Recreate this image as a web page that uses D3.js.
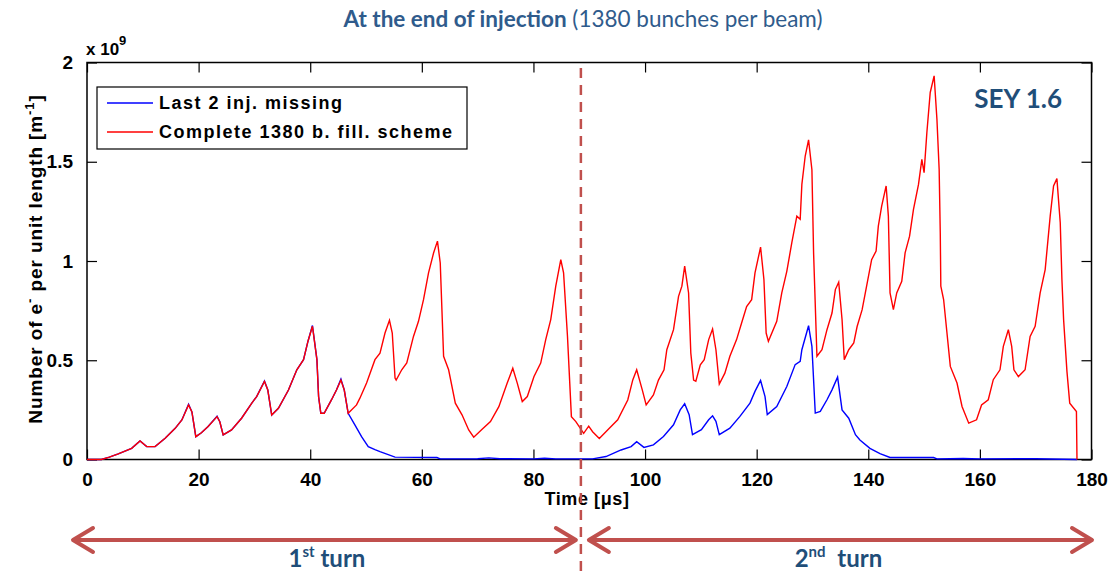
<!DOCTYPE html>
<html>
<head>
<meta charset="utf-8">
<script src="https://cdn.jsdelivr.net/npm/d3@7"></script>
<style>
  body { margin: 0; background: #fff; }
  svg { display: block; }
  .tick text { font-family: "Liberation Sans", Arial, sans-serif; font-weight: bold; font-size: 19px; fill: #000; }
</style>
</head>
<body>
<div id="chart"></div>
<script>
// time axis (us) and electron density (x 1e9 per m)
const redT = [0, 2.6, 4, 5.6, 8.0, 9.5, 10.7, 12.2, 14.0, 15.8, 17.0, 18.2, 18.8, 19.5, 20.5, 21.7, 23.3, 23.8, 24.4, 25.9, 27.7, 29.5, 30.4, 31.8, 32.4, 33.1, 34.3, 36.1, 37.6, 38.8, 39.6, 40.4, 41.2, 41.5, 41.9, 42.5, 43.8, 44.7, 45.5, 46.1, 46.8,
  48.3, 48.9, 50.1, 51.6, 52.5, 53.4, 54.2, 54.7, 55.2, 55.4, 56.4, 57.3, 58.5, 59.4, 60.3, 61.2, 62.1, 62.8, 63.3, 63.9, 64.8, 66.0, 67.2, 68.4, 69.3, 70.8, 72.3, 73.8, 75.3, 76.3, 77.1, 78.0, 78.9, 80.1, 81.3, 82.2, 83.1, 84.0, 84.9, 85.4, 86.1, 86.8, 87.6, 89.0, 89.9, 90.6, 91.8, 93.6, 95.1, 96.9, 97.8, 98.5, 99.5,
  100.2, 101.5, 102.4, 103.4, 103.9, 105.1, 106.0, 106.6, 107.1, 107.8, 108.2, 108.7, 109.1, 109.9, 110.6, 111.4, 112.1, 112.7, 113.3, 114.3, 115.2, 116.4, 117.3, 118.2, 119.1, 119.7, 120.7, 121.3, 121.7, 122.1, 123.6, 124.5, 125.4, 126.3, 127.2, 127.8, 128.1, 128.7, 129.3, 129.9, 130.2, 130.8, 131.7, 132.6, 133.5, 134.1, 134.7, 135.3, 135.7, 136.5, 137.4, 138.0, 138.9, 139.7,
  140.6, 141.4, 141.8, 142.4, 143.2, 143.6, 143.9, 144.5, 145.1, 146.0, 146.6, 147.4, 148.1, 149.0, 149.6, 150.0, 150.5, 151.1, 151.8, 152.3, 152.7, 152.9, 153.0, 153.5, 154.7, 155.9, 156.8, 158.0, 159.4, 160.3, 161.5, 162.4, 163.6, 164.2, 165.1, 165.7, 166.1, 166.9, 168.1, 169.0, 169.9, 170.8, 171.7, 172.6, 173.2, 173.8, 174.4, 174.7, 175.0, 175.6, 176.1, 177.3, 177.4];
const redV = [0, 0, 0.012, 0.028, 0.056, 0.093, 0.065, 0.065, 0.107, 0.157, 0.199, 0.275, 0.24, 0.115, 0.135, 0.166, 0.216, 0.19, 0.124, 0.149, 0.208, 0.283, 0.317, 0.393, 0.35, 0.224, 0.258, 0.35, 0.452, 0.503, 0.596, 0.671, 0.503, 0.317, 0.233, 0.233, 0.30, 0.35, 0.40, 0.35, 0.233,
  0.275, 0.309, 0.385, 0.503, 0.536, 0.637, 0.701, 0.637, 0.41, 0.40, 0.452, 0.486, 0.62, 0.696, 0.805, 0.94, 1.04, 1.10, 0.99, 0.52, 0.452, 0.284, 0.225, 0.149, 0.112, 0.152, 0.191, 0.266, 0.385, 0.46, 0.385, 0.292, 0.317, 0.418, 0.486, 0.604, 0.705, 0.873, 1.007, 0.94, 0.62, 0.216, 0.191, 0.132, 0.168, 0.14, 0.106, 0.157, 0.20, 0.30, 0.401, 0.452, 0.351,
  0.275, 0.325, 0.40, 0.452, 0.553, 0.654, 0.822, 0.873, 0.974, 0.839, 0.536, 0.40, 0.394, 0.477, 0.503, 0.604, 0.657, 0.553, 0.38, 0.435, 0.52, 0.604, 0.688, 0.77, 0.805, 0.94, 1.07, 0.907, 0.637, 0.595, 0.696, 0.839, 0.948, 1.092, 1.226, 1.21, 1.386, 1.529, 1.61, 1.46, 1.041, 0.52, 0.553, 0.654, 0.738, 0.856, 0.893, 0.705, 0.503, 0.553, 0.587, 0.67, 0.755, 0.873,
  1.007, 1.05, 1.176, 1.277, 1.378, 1.226, 0.839, 0.755, 0.839, 0.898, 1.041, 1.125, 1.26, 1.386, 1.512, 1.445, 1.647, 1.849, 1.933, 1.715, 1.462, 1.142, 0.873, 0.806, 0.469, 0.385, 0.267, 0.183, 0.20, 0.275, 0.301, 0.402, 0.452, 0.57, 0.654, 0.57, 0.452, 0.418, 0.452, 0.62, 0.671, 0.839, 0.957, 1.226, 1.378, 1.415, 1.193, 0.906, 0.705, 0.444, 0.284, 0.242, 0];

const blueT = [0, 2.6, 4, 5.6, 8.0, 9.5, 10.7, 12.2, 14.0, 15.8, 17.0, 18.2, 18.8, 19.5, 20.5, 21.7, 23.3, 23.8, 24.4, 25.9, 27.7, 29.5, 30.4, 31.8, 32.4, 33.1, 34.3, 36.1, 37.6, 38.8, 39.6, 40.4, 41.2, 41.5, 41.9, 42.5, 43.8, 44.7, 45.5, 46.1, 46.8,
  48.0, 49.2, 50.4, 51.6, 52.5, 55.2, 62.7, 63.3, 70, 72, 74, 80, 82, 84, 90.6, 93.0, 95.7, 97.5, 98.5, 99.8, 101.5, 103.3, 105.1, 106.3, 107.1, 107.9, 108.5, 110.1, 111.4, 112.1, 112.7, 113.3, 115.2, 117.0, 118.8, 119.7, 120.7, 121.5, 121.9, 123.6, 125.4, 126.9, 127.8, 128.1, 129.3, 129.9, 130.5, 131.4, 132.6, 133.5, 134.5, 135.3, 136.5, 137.7, 138.5, 140.3, 142.1, 143.9, 151.7, 152.3, 157, 160, 170, 177.4];
const blueV = [0, 0, 0.012, 0.028, 0.056, 0.093, 0.065, 0.065, 0.107, 0.157, 0.199, 0.278, 0.24, 0.115, 0.135, 0.166, 0.218, 0.19, 0.124, 0.149, 0.208, 0.283, 0.317, 0.395, 0.35, 0.224, 0.258, 0.35, 0.452, 0.503, 0.596, 0.675, 0.503, 0.317, 0.233, 0.233, 0.30, 0.35, 0.405, 0.35, 0.233,
  0.174, 0.115, 0.065, 0.05, 0.04, 0.012, 0.01, 0.003, 0.004, 0.008, 0.004, 0.003, 0.006, 0.003, 0.003, 0.015, 0.048, 0.065, 0.09, 0.061, 0.074, 0.116, 0.175, 0.25, 0.281, 0.226, 0.125, 0.15, 0.20, 0.22, 0.192, 0.125, 0.158, 0.217, 0.284, 0.343, 0.398, 0.317, 0.226, 0.267, 0.368, 0.478, 0.495, 0.553, 0.674, 0.57, 0.234, 0.242, 0.301, 0.351, 0.415, 0.25, 0.208, 0.125, 0.098, 0.056, 0.03, 0.01, 0.01, 0.003, 0.005, 0.003, 0.004, 0];

const xTicks = [0, 20, 40, 60, 80, 100, 120, 140, 160, 180];
const yTicks = [0, 0.5, 1, 1.5, 2];
const yTickLabels = ["0", "0.5", "1", "1.5", "2"];
const seriesNames = ["Last 2 inj. missing", "Complete 1380 b. fill. scheme"];
const turnLabels = [["1", "st", " turn"], ["2", "nd", "  turn"]];
const turnBreak = 88.5; // us, end of the first turn

const W = 1119, H = 573;
const mLeft = 87, mRight = 1091.5, mTop = 62.5, mBottom = 459.5;

const svg = d3.select("#chart").append("svg").attr("width", W).attr("height", H);

const x = d3.scaleLinear().domain([0, 180]).range([mLeft, mRight]);
const y = d3.scaleLinear().domain([0, 2]).range([mBottom, mTop]);

const darkBlue = "#1f4e79";
const arrowRed = "#c0504d";

// title
const title = svg.append("text")
  .attr("x", 583).attr("y", 27)
  .attr("text-anchor", "middle")
  .style("font-family", "Lato, 'Open Sans', sans-serif")
  .style("font-size", "22.5px")
  .style("fill", "#2f5b8c");
title.append("tspan").style("font-weight", "bold").text("At the end of injection");
title.append("tspan").text(" (1380 bunches per beam)");

// axes
svg.append("g")
  .attr("transform", `translate(0,${mBottom})`)
  .call(d3.axisBottom(x).tickValues(xTicks).tickSizeInner(-10).tickSizeOuter(0).tickPadding(13));
svg.append("g")
  .attr("transform", `translate(0,${mTop})`)
  .call(d3.axisTop(x).tickValues(xTicks).tickSizeInner(-10).tickSizeOuter(0).tickFormat(""));
svg.append("g")
  .attr("transform", `translate(${mLeft},0)`)
  .call(d3.axisLeft(y).tickValues(yTicks).tickSizeInner(-10).tickSizeOuter(0).tickPadding(14)
    .tickFormat((d, i) => yTickLabels[i]));
svg.append("g")
  .attr("transform", `translate(${mRight},0)`)
  .call(d3.axisRight(y).tickValues(yTicks).tickSizeInner(-10).tickSizeOuter(0).tickFormat(""));
svg.selectAll(".domain").remove();
svg.selectAll(".tick line").attr("stroke", "#000").attr("stroke-width", 1.2);

svg.append("rect")
  .attr("x", mLeft).attr("y", mTop)
  .attr("width", mRight - mLeft).attr("height", mBottom - mTop)
  .attr("fill", "none").attr("stroke", "#000").attr("stroke-width", 1.5);

// exponent
const expo = svg.append("text")
  .attr("x", mLeft - 1).attr("y", 55)
  .style("font-family", "'Liberation Sans', Arial, sans-serif")
  .style("font-weight", "bold").style("font-size", "17px");
expo.append("tspan").text("x 10");
expo.append("tspan").attr("dy", -10).style("font-size", "13px").text("9");

// axis labels
svg.append("text")
  .attr("x", 587).attr("y", 505)
  .attr("text-anchor", "middle")
  .style("font-family", "'Liberation Sans', Arial, sans-serif")
  .style("font-weight", "bold").style("font-size", "18px")
  .style("letter-spacing", "0.6px")
  .text("Time [μs]");

const yl = svg.append("text")
  .attr("transform", `translate(42,${(mTop + mBottom) / 2 - 2}) rotate(-90)`)
  .attr("text-anchor", "middle")
  .style("font-family", "'Liberation Sans', Arial, sans-serif")
  .style("font-weight", "bold").style("font-size", "19px")
  .style("letter-spacing", "0.9px");
yl.append("tspan").text("Number of e");
yl.append("tspan").attr("dy", -8).style("font-size", "13px").text("-");
yl.append("tspan").attr("dy", 8).text(" per unit length [m");
yl.append("tspan").attr("dy", -8).style("font-size", "13px").text("-1");
yl.append("tspan").attr("dy", 8).text("]");

// curves
const line = d3.line().x(d => x(d[0])).y(d => y(d[1]));
svg.append("path")
  .datum(d3.zip(blueT, blueV))
  .attr("d", line).attr("fill", "none")
  .attr("stroke", "#0000ff").attr("stroke-width", 1.4);
svg.append("path")
  .datum(d3.zip(redT, redV))
  .attr("d", line).attr("fill", "none")
  .attr("stroke", "#ff0000").attr("stroke-width", 1.4);

// legend
const lg = svg.append("g");
lg.append("rect")
  .attr("x", 97).attr("y", 87).attr("width", 370).attr("height", 62)
  .attr("fill", "#fff").attr("stroke", "#000").attr("stroke-width", 1.2);
const legColors = ["#0000ff", "#ff0000"];
seriesNames.forEach((name, i) => {
  const ly = 103 + i * 29;
  lg.append("line")
    .attr("x1", 107).attr("x2", 153).attr("y1", ly).attr("y2", ly)
    .attr("stroke", legColors[i]).attr("stroke-width", 1.4);
  lg.append("text")
    .attr("x", 159).attr("y", ly + 6)
    .style("font-family", "'Liberation Sans', Arial, sans-serif")
    .style("font-weight", "bold").style("font-size", "18px")
    .style("letter-spacing", "1.5px")
    .text(name);
});

// SEY label
svg.append("text")
  .attr("x", 1062).attr("y", 108)
  .attr("text-anchor", "end")
  .style("font-family", "Lato, 'Open Sans', sans-serif")
  .style("font-weight", "bold").style("font-size", "26px")
  .style("fill", darkBlue)
  .text("SEY 1.6");

// turn separator
svg.append("line")
  .attr("x1", x(turnBreak)).attr("x2", x(turnBreak))
  .attr("y1", 68).attr("y2", H)
  .attr("stroke", arrowRed).attr("stroke-width", 2.5)
  .attr("stroke-dasharray", "10,7");

// turn arrows
const ay = 540;
function arrow(x1, x2) {
  const g = svg.append("g").attr("stroke", arrowRed).attr("stroke-width", 4)
    .attr("fill", "none").attr("stroke-linecap", "round").attr("stroke-linejoin", "round");
  g.append("line").attr("x1", x1 + 2).attr("x2", x2 - 2).attr("y1", ay).attr("y2", ay);
  g.append("polyline").attr("points", `${x1 + 20},${ay - 12} ${x1},${ay} ${x1 + 20},${ay + 12}`);
  g.append("polyline").attr("points", `${x2 - 20},${ay - 12} ${x2},${ay} ${x2 - 20},${ay + 12}`);
}
arrow(73, x(turnBreak) - 5);
arrow(x(turnBreak) + 8, 1092);

const turnCenters = [(73 + x(turnBreak)) / 2, (x(turnBreak) + 1092) / 2 + 2];
turnLabels.forEach((parts, i) => {
  const t = svg.append("text")
    .attr("x", turnCenters[i]).attr("y", 567)
    .attr("text-anchor", "middle")
    .style("font-family", "Lato, 'Open Sans', sans-serif")
    .style("font-weight", "bold").style("font-size", "24px")
    .style("white-space", "pre")
    .style("fill", darkBlue);
  t.append("tspan").text(parts[0]);
  t.append("tspan").attr("dy", -10).style("font-size", "15px").text(parts[1]);
  t.append("tspan").attr("dy", 10).text(parts[2]);
});
</script>
</body>
</html>
